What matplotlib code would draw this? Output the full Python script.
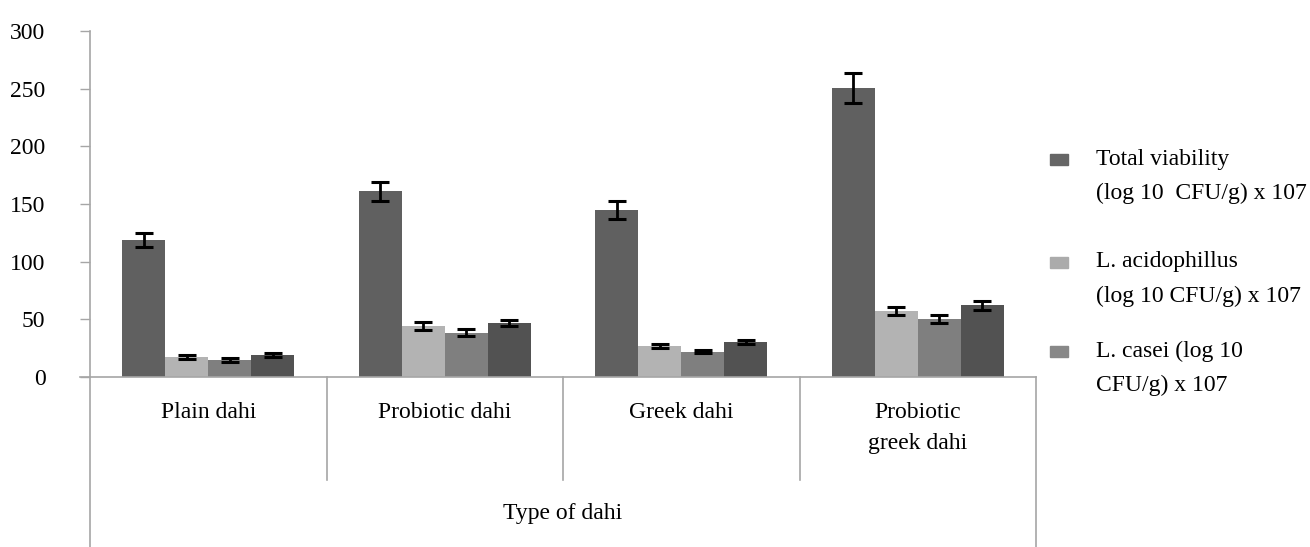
import matplotlib
matplotlib.use("Agg")
import matplotlib.pyplot as plt
from matplotlib.patches import Rectangle
import numpy as np

# ---------- DATA ----------
categories = ["Plain dahi", "Probiotic dahi", "Greek dahi", "Probiotic\ngreek dahi"]
series = [
    "Total viability\n(log 10  CFU/g) x 107",
    "L. acidophillus\n(log 10 CFU/g) x 107",
    "L. casei (log 10\nCFU/g) x 107",
    "L. bulgaricus",
]
total_viability = [119, 161, 145, 251]
total_err = [6, 8, 8, 13]
acidophillus = [17, 44, 27, 57.5]
acidophillus_err = [1.8, 3.5, 2, 3.5]
casei = [14.5, 38.5, 22, 50.5]
casei_err = [1.8, 3, 1.5, 3.5]
fourth = [19, 47, 30.5, 62]
fourth_err = [1.5, 2.5, 2, 3.5]
yticks = [0, 50, 100, 150, 200, 250, 300]

values = [total_viability, acidophillus, casei, fourth]
errors = [total_err, acidophillus_err, casei_err, fourth_err]
colors = ["#606060", "#b3b3b3", "#7f7f7f", "#525252"]
legend_colors = ["#666666", "#ababab", "#888888"]

plt.rcParams["font.family"] = ["Liberation Serif", "DejaVu Serif"]
FS = 17
AXC = "#a6a6a6"

# ---------- FIGURE ----------
W, H = 1310, 547
fig = plt.figure(figsize=(W / 100, H / 100), dpi=100)
x0, x1, y0, ytop = 90, 1036, 377, 31
ax = fig.add_axes([x0 / W, (H - y0) / H, (x1 - x0) / W, (y0 - ytop) / H])

x = np.arange(len(categories))
bw = 0.182
for i in range(4):
    ax.bar(x + (i - 1.5) * bw, values[i], bw, color=colors[i], zorder=2)
    ax.errorbar(x + (i - 1.5) * bw, values[i], yerr=errors[i], fmt="none",
                ecolor="black", elinewidth=2, capsize=6.5, capthick=2.2, zorder=3)

ax.set_xlim(-0.5, len(categories) - 0.5)
ax.set_ylim(0, 300)
ax.set_yticks(yticks)
ax.set_xticks([])
ax.tick_params(axis="y", length=7, color=AXC, width=1, pad=25, labelsize=FS)
for s in ["top", "right", "left"]:
    ax.spines[s].set_visible(False)
ax.spines["bottom"].set_color(AXC)
ax.spines["bottom"].set_linewidth(1.2)

# category axis lines
tr = ax.transAxes
bottom = -(H - y0) / (y0 - ytop)
sep_end = -(480 - y0) / (y0 - ytop)
ax.plot([0, 0], [1, bottom], color=AXC, lw=1.2, transform=tr, clip_on=False)
ax.plot([1, 1], [0, bottom], color=AXC, lw=1.2, transform=tr, clip_on=False)
for k in range(1, len(categories)):
    xs = k / len(categories)
    ax.plot([xs, xs], [0, sep_end], color=AXC, lw=1.2, transform=tr, clip_on=False)
ax.plot([-10 / (x1 - x0), 0], [0, 0], color=AXC, lw=1.2, transform=tr, clip_on=False)

# category labels
for k, c in enumerate(categories):
    ax.text((k + 0.5) / len(categories), -(402 - y0) / (y0 - ytop), c,
            transform=tr, ha="center", va="top", fontsize=FS, linespacing=1.6)
ax.text(0.5, -(513 - y0) / (y0 - ytop), "Type of dahi", transform=tr,
        ha="center", va="center", fontsize=FS)

# legend (only three entries are shown)
leg_y = [159, 262, 351]
for k in range(3):
    yy = leg_y[k]
    fig.patches.append(Rectangle((1050 / W, (H - yy - 6) / H), 18 / W, 11 / H,
                                 color=legend_colors[k], transform=fig.transFigure))
    for j, line in enumerate(series[k].split("\n")):
        fig.text(1096 / W, (H - yy - j * 34) / H, line, ha="left", va="center",
                 fontsize=FS)

fig.savefig("out.png", dpi=100)
